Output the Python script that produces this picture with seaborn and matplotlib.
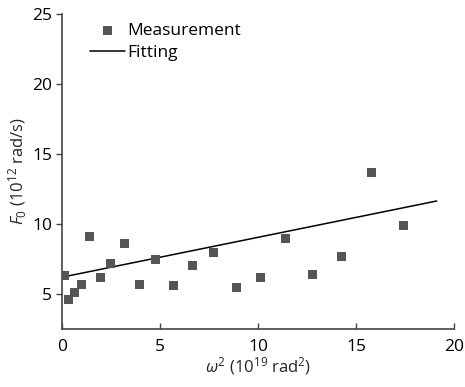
import matplotlib.pyplot as plt
import seaborn as sns
import numpy as np

# data
omega2 = [0.15, 0.32, 0.63, 0.99, 1.39, 1.96, 2.50, 3.18, 3.93, 4.76,
          5.68, 6.65, 7.72, 8.89, 10.12, 11.39, 12.77, 14.25, 15.78, 17.41]
F0 = [6.29, 4.60, 5.07, 5.64, 9.07, 6.21, 7.14, 8.57, 5.64, 7.43,
      5.57, 7.00, 7.93, 5.43, 6.21, 8.93, 6.36, 7.64, 13.64, 9.86]
fit_x = [0.15, 19.12]
fit_y = [6.24, 11.64]

sns.set_style("ticks")
plt.rcParams['font.family'] = ['Open Sans', 'DejaVu Sans']
plt.rcParams['mathtext.fontset'] = 'custom'
plt.rcParams['mathtext.it'] = 'Open Sans:italic'
plt.rcParams['mathtext.rm'] = 'Open Sans'
plt.rcParams['text.color'] = 'black'
plt.rcParams['xtick.color'] = 'black'
plt.rcParams['ytick.color'] = 'black'

fig = plt.figure(figsize=(4.65, 3.87), dpi=100)
ax = fig.add_axes([0.1333, 0.150, 0.843, 0.814])

sns.scatterplot(x=omega2, y=F0, marker="s", s=42, color="#555555",
                edgecolor="none", label="Measurement", ax=ax, zorder=3)
sns.lineplot(x=fit_x, y=fit_y, color="black", linewidth=1.1,
             label="Fitting", ax=ax)

ax.set_xlim(0, 20)
ax.set_ylim(2.5, 25)
ax.set_xticks([0, 5, 10, 15, 20])
ax.set_yticks([5, 10, 15, 20, 25])
ax.tick_params(axis="x", direction="in", length=4, width=1, color="#444444",
               labelsize=12.5, pad=7)
ax.tick_params(axis="y", direction="out", length=4, width=1, color="#444444",
               labelsize=12.5, pad=3)
for s in ["top", "right"]:
    ax.spines[s].set_visible(False)
for s in ["left", "bottom"]:
    ax.spines[s].set_color("#444444")
    ax.spines[s].set_linewidth(1.2)

ax.set_xlabel(r"$\omega^2$ (10$^{19}$ rad$^2$)", fontsize=12, labelpad=0)
ax.set_ylabel(r"$F_0$ (10$^{12}$ rad/s)", fontsize=12, labelpad=2)

ax.legend(loc="upper left", bbox_to_anchor=(0.04, 1.01), frameon=False,
          fontsize=12.5, handlelength=2.0, handletextpad=0.15,
          labelspacing=0.35, borderaxespad=0.3)

fig.savefig("out.png", dpi=100)
